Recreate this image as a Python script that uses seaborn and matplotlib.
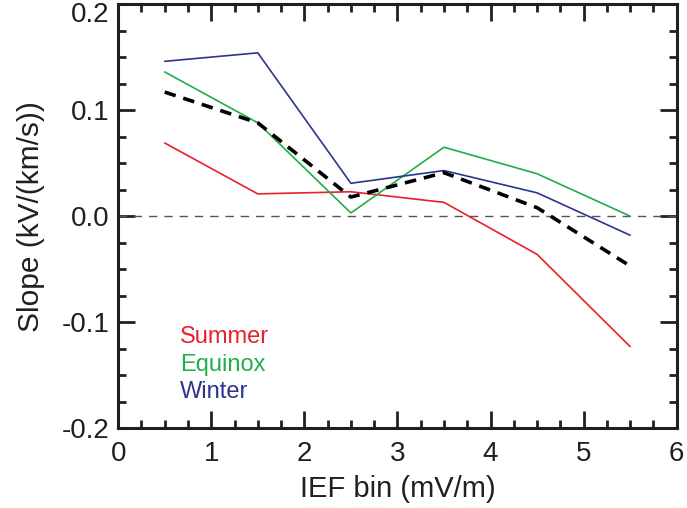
import matplotlib
matplotlib.use("Agg")
import matplotlib.pyplot as plt
from matplotlib.ticker import MultipleLocator, FormatStrFormatter
from matplotlib.transforms import ScaledTranslation
import seaborn as sns
import pandas as pd

# IEF bin centres (mV/m)
ief_bin = [0.5, 1.5, 2.5, 3.5, 4.5, 5.5]

# Regression slopes per season, kV/(km/s)
summer = [0.069, 0.021, 0.023, 0.013, -0.036, -0.123]
equinox = [0.136, 0.088, 0.003, 0.065, 0.040, 0.000]
winter = [0.146, 0.154, 0.031, 0.043, 0.022, -0.018]
all_seasons = [0.117, 0.088, 0.018, 0.041, 0.008, -0.047]

season_names = ["Summer", "Equinox", "Winter"]
season_colors = ["#e8202a", "#1fae4b", "#2b3590"]

sns.set_style("ticks")
plt.rcParams["font.family"] = ["Liberation Sans", "DejaVu Sans"]

ink = "#231f20"

fig = plt.figure(figsize=(6.87, 5.08), dpi=100)
ax = fig.add_axes([0.172, 0.157, 0.813, 0.835])

df = pd.DataFrame({
    "IEF": ief_bin * 3,
    "Slope": summer + equinox + winter,
    "Season": [s for s in season_names for _ in ief_bin],
})

# zero reference line
ax.axhline(0.0, color="#555555", lw=1.0, ls=(0, (6, 5)), zorder=1)

sns.lineplot(data=df, x="IEF", y="Slope", hue="Season",
             palette=dict(zip(season_names, season_colors)),
             linewidth=1.2, legend=False, ax=ax, zorder=3)

sns.lineplot(x=ief_bin, y=all_seasons, color="black", linewidth=2.6,
             dashes=False, ax=ax, zorder=4)
ax.lines[-1].set_linestyle((0, (3.2, 2.2)))

ax.set_xlim(0, 6)
ax.set_ylim(-0.2, 0.2)
ax.xaxis.set_major_locator(MultipleLocator(1))
ax.xaxis.set_minor_locator(MultipleLocator(0.25))
ax.yaxis.set_major_locator(MultipleLocator(0.1))
ax.yaxis.set_minor_locator(MultipleLocator(0.025))
ax.yaxis.set_major_formatter(FormatStrFormatter("%.1f"))

ax.tick_params(which="both", direction="in", top=True, right=True,
               width=2.0, color=ink, labelsize=20, labelcolor=ink)
ax.tick_params(which="major", length=12)
ax.tick_params(which="minor", length=6)
ax.tick_params(axis="x", which="major", pad=9)
ax.tick_params(axis="y", which="major", pad=6)
for sp in ax.spines.values():
    sp.set_visible(True)
    sp.set_linewidth(2.2)
    sp.set_color(ink)

ax.set_xlabel("IEF bin (mV/m)", fontsize=21, color=ink, labelpad=6)
ax.set_ylabel("Slope (kV/(km/s))", fontsize=21.5, color=ink, labelpad=12)

for i, (name, col) in enumerate(zip(season_names, season_colors)):
    ax.text(0.665, -0.1198 - i * 0.0259, name, color=col, fontsize=17,
            va="baseline", ha="left")

# keep the topmost y label inside the figure
fig.canvas.draw()
for lbl in ax.get_yticklabels():
    if lbl.get_text() == "0.2":
        lbl.set_transform(lbl.get_transform() +
                          ScaledTranslation(0, -0.08, fig.dpi_scale_trans))

fig.savefig("out.png", dpi=100)
